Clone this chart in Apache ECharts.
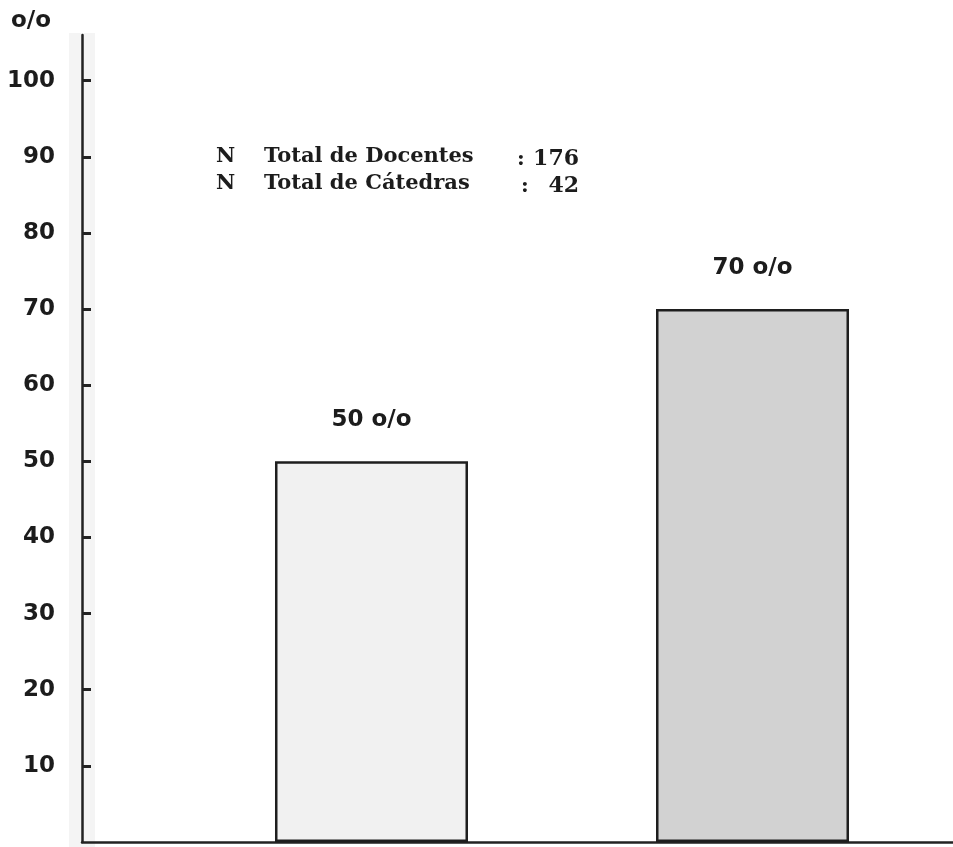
<!DOCTYPE html>
<html>
<head>
<meta charset="utf-8">
<script src="https://cdn.jsdelivr.net/npm/echarts@6/dist/echarts.min.js"></script>
<style>html,body{margin:0;padding:0;background:#fff;}#c{width:953px;height:847px;}</style>
</head>
<body>
<div id="c"></div>
<script>
// Data
var categories = ['Grupo 1', 'Grupo 2'];
var categoryPositions = [1, 2];
var values = [50, 70];
var valueLabels = ['50 o/o', '70 o/o'];
var yTicks = [10, 20, 30, 40, 50, 60, 70, 80, 90, 100];
var yUnit = 'o/o';
var noteLines = ['Total de Docentes', 'Total de Cátedras'];
var noteValues = ['176', '42'];

// Styles
var barColors = ['#f1f1f1', '#d2d2d2'];
var sansFont = '"DejaVu Sans", "Liberation Sans", Arial, sans-serif';
var serifFont = '"DejaVu Serif", "Liberation Serif", serif';

var chart = echarts.init(document.getElementById('c'), null, {renderer: 'canvas'});

var barData = values.map(function (v, i) {
  return {
    value: [categoryPositions[i], v],
    name: categories[i],
    itemStyle: {color: barColors[i], borderColor: '#1e1e1e', borderWidth: 2.5},
    label: {show: true, position: 'top', distance: 30, formatter: valueLabels[i]}
  };
});

var graphics = [
  {type: 'rect', z: -10, silent: true, shape: {x: 69, y: 33, width: 26, height: 814}, style: {fill: '#f4f4f4'}},
  {type: 'text', x: 11, y: 10, style: {text: yUnit, font: 'bold 23px ' + sansFont, fill: '#1c1c1c'}}
];
noteLines.forEach(function (t, i) {
  var y = 146 + i * 27;
  graphics.push({type: 'text', x: 216, y: y, style: {text: 'N', font: 'bold 21px ' + serifFont, fill: '#1c1c1c'}});
  graphics.push({type: 'text', x: 264, y: y, style: {text: t, font: 'bold 21px ' + serifFont, fill: '#1c1c1c'}});
  graphics.push({type: 'text', x: 517 + i * 4, y: y + 3, style: {text: ':', font: 'bold 21px ' + serifFont, fill: '#1c1c1c'}});
  graphics.push({type: 'text', x: 579, y: y + 2, style: {text: noteValues[i], font: 'bold 22px ' + serifFont, fill: '#1c1c1c', align: 'right'}});
});

chart.setOption({
  animation: false,
  backgroundColor: '#ffffff',
  grid: {left: 82, right: 0, top: 35, bottom: 5, containLabel: false},
  xAxis: {
    type: 'value',
    min: 0.2402,
    max: 2.5262,
    axisLine: {show: true, onZero: false, lineStyle: {color: '#222', width: 2.5}},
    axisTick: {show: false},
    axisLabel: {show: false},
    splitLine: {show: false}
  },
  yAxis: {
    type: 'value',
    min: 0,
    max: 106,
    interval: 10,
    axisLine: {show: true, lineStyle: {color: '#222', width: 2.5}},
    axisTick: {show: true, inside: true, length: 9, lineStyle: {color: '#222', width: 3}, customValues: yTicks},
    axisLabel: {
      show: true, margin: 27, color: '#1c1c1c', fontSize: 23, fontWeight: 'bold',
      fontFamily: sansFont,
      customValues: yTicks
    },
    splitLine: {show: false}
  },
  series: [{
    type: 'bar',
    barWidth: 193,
    data: barData,
    label: {color: '#1c1c1c', fontSize: 23, fontWeight: 'bold', fontFamily: sansFont}
  }],
  graphic: graphics
});
</script>
</body>
</html>
